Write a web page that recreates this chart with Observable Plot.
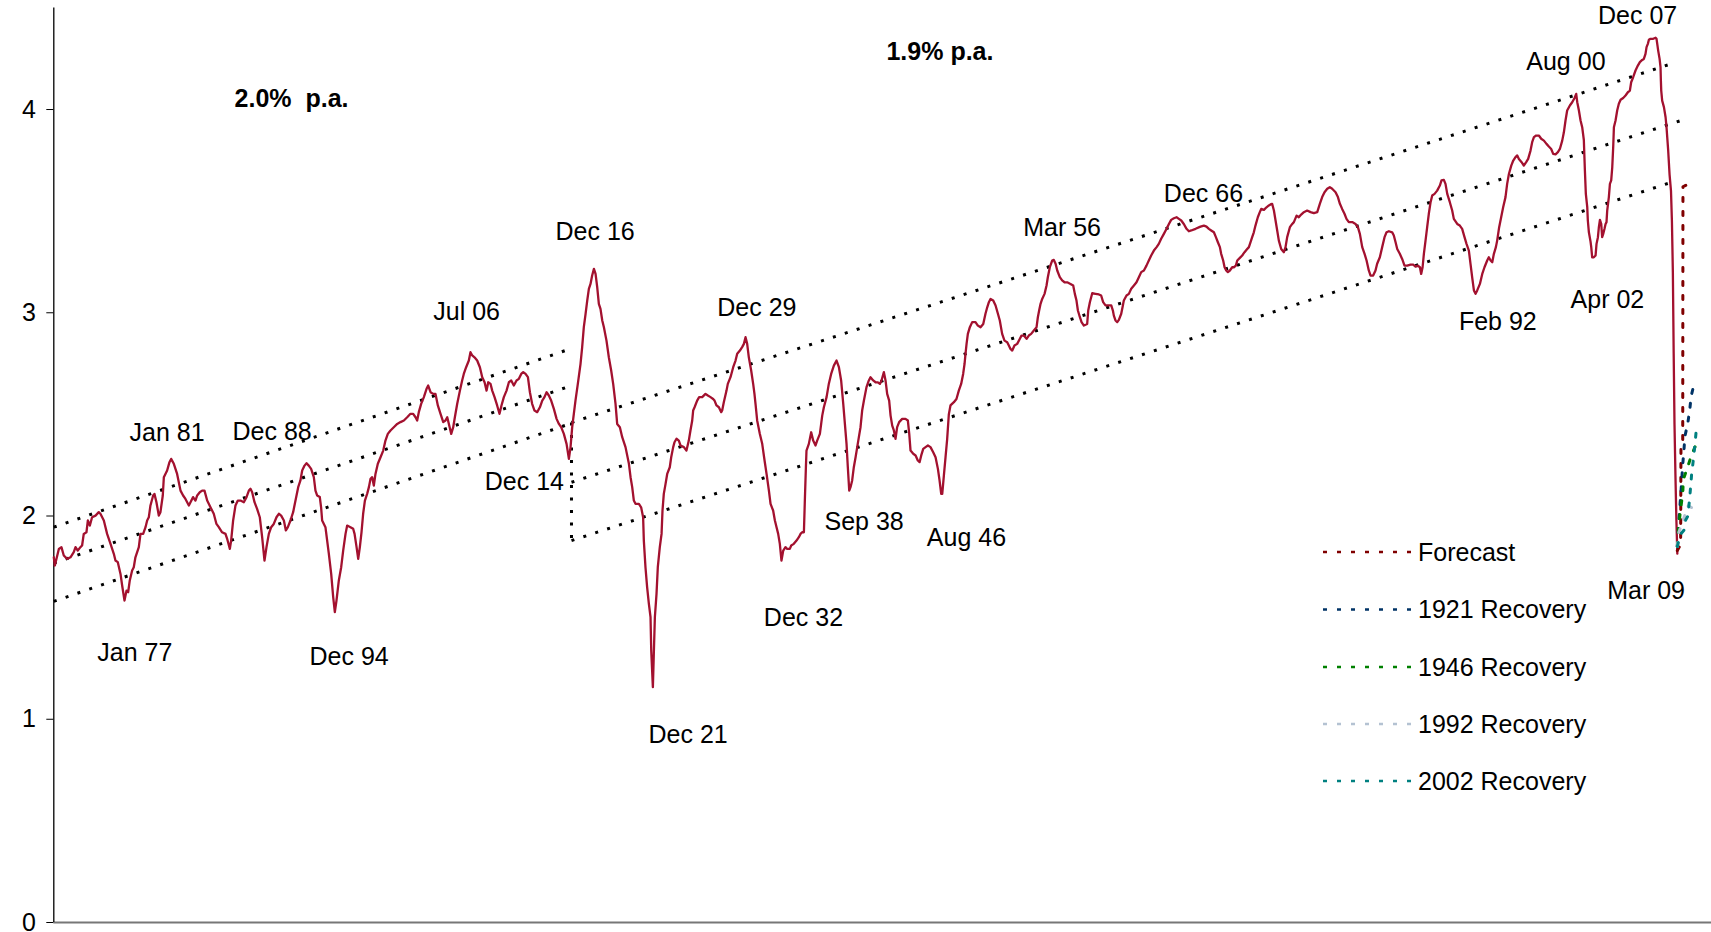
<!DOCTYPE html>
<html>
<head>
<meta charset="utf-8">
<script src="https://cdn.jsdelivr.net/npm/d3@7"></script>
<script src="https://cdn.jsdelivr.net/npm/@observablehq/plot@0.6"></script>
<style>
  html, body { margin: 0; padding: 0; background: #ffffff; overflow: hidden; }
  #chart { position: relative; width: 1711px; height: 932px; }
</style>
</head>
<body>
<div id="chart"></div>
<script>
// ---------- DATA (year, value) ----------
const era1871 = [[1871.00,1.797],[1871.09,1.756],[1871.43,1.838],[1871.65,1.847],[1871.85,1.806],[1872.14,1.789],[1872.42,1.797],[1872.70,1.822],[1872.85,1.847],[1873.04,1.830],[1873.27,1.847],[1873.41,1.855],[1873.55,1.912],[1873.78,1.920],[1873.90,1.978],[1874.07,1.953],[1874.26,1.994],[1874.55,2.002],[1874.83,2.019],[1874.97,2.011],[1875.26,1.978],[1875.54,1.912],[1875.83,1.863],[1876.11,1.814],[1876.25,1.781],[1876.45,1.773],[1876.68,1.715],[1876.82,1.658],[1877.02,1.584],[1877.19,1.633],[1877.33,1.625],[1877.47,1.683],[1877.67,1.732],[1877.81,1.748],[1877.95,1.797],[1878.24,1.847],[1878.38,1.912],[1878.61,1.912],[1878.81,1.945],[1878.95,1.978],[1879.09,1.994],[1879.23,2.052],[1879.46,2.101],[1879.57,2.109],[1879.74,2.068],[1879.94,2.002],[1880.08,2.019],[1880.28,2.101],[1880.37,2.191],[1880.65,2.224],[1880.85,2.265],[1880.99,2.281],[1881.22,2.257],[1881.50,2.207],[1881.79,2.125],[1882.01,2.101],[1882.21,2.084],[1882.50,2.052],[1882.64,2.068],[1882.86,2.093],[1883.06,2.076],[1883.21,2.101],[1883.43,2.117],[1883.63,2.125],[1883.83,2.125],[1884.06,2.076],[1884.34,2.043],[1884.62,2.011],[1884.85,1.961],[1885.05,1.945],[1885.33,1.920],[1885.62,1.912],[1885.76,1.888],[1885.99,1.838],[1886.10,1.879],[1886.27,1.978],[1886.47,2.052],[1886.67,2.076],[1886.90,2.076],[1887.18,2.068],[1887.41,2.093],[1887.61,2.125],[1887.75,2.134],[1887.89,2.117],[1888.09,2.068],[1888.31,2.035],[1888.54,1.994],[1888.74,1.896],[1888.94,1.781],[1889.11,1.847],[1889.31,1.912],[1889.51,1.945],[1889.73,1.961],[1889.96,1.994],[1890.16,2.011],[1890.36,2.002],[1890.59,1.978],[1890.76,1.929],[1890.93,1.945],[1891.15,1.978],[1891.38,2.019],[1891.58,2.076],[1891.81,2.142],[1892.00,2.175],[1892.15,2.224],[1892.35,2.248],[1892.52,2.260],[1892.71,2.248],[1892.91,2.232],[1893.14,2.191],[1893.28,2.125],[1893.42,2.101],[1893.65,2.093],[1893.76,2.043],[1893.85,1.978],[1894.13,1.945],[1894.42,1.814]];

const era1894 = [[1894.62,1.715],[1894.79,1.601],[1894.93,1.527],[1895.07,1.584],[1895.27,1.683],[1895.47,1.748],[1895.64,1.830],[1895.84,1.912],[1895.98,1.953],[1896.26,1.945],[1896.49,1.937],[1896.61,1.912],[1896.78,1.847],[1896.92,1.789],[1897.06,1.847],[1897.20,1.920],[1897.34,2.011],[1897.49,2.076],[1897.68,2.109],[1897.83,2.142],[1897.97,2.183],[1898.11,2.191],[1898.25,2.150],[1898.39,2.207],[1898.59,2.257],[1898.82,2.289],[1899.05,2.322],[1899.24,2.371],[1899.44,2.404],[1899.67,2.421],[1899.95,2.437],[1900.24,2.453],[1900.52,2.462],[1900.81,2.470],[1901.09,2.486],[1901.37,2.503],[1901.60,2.503],[1901.80,2.486],[1901.94,2.470],[1902.08,2.511],[1902.28,2.552],[1902.51,2.585],[1902.74,2.626],[1902.88,2.642],[1903.08,2.609],[1903.30,2.601],[1903.50,2.601],[1903.70,2.544],[1903.93,2.503],[1904.16,2.462],[1904.35,2.470],[1904.50,2.486],[1904.64,2.453],[1904.84,2.404],[1905.01,2.437],[1905.15,2.486],[1905.35,2.552],[1905.58,2.617],[1905.77,2.667],[1905.91,2.699],[1906.11,2.732],[1906.34,2.765],[1906.48,2.806],[1906.63,2.790],[1906.82,2.781],[1907.05,2.765],[1907.28,2.732],[1907.48,2.683],[1907.68,2.658],[1907.85,2.617],[1907.99,2.658],[1908.19,2.650],[1908.33,2.617],[1908.53,2.585],[1908.75,2.544],[1908.95,2.503],[1909.12,2.544],[1909.32,2.585],[1909.55,2.617],[1909.75,2.658],[1909.95,2.667],[1910.17,2.642],[1910.40,2.667],[1910.60,2.675],[1910.80,2.699],[1910.97,2.708],[1911.17,2.699],[1911.37,2.683],[1911.54,2.609],[1911.73,2.552],[1911.93,2.519],[1912.16,2.511],[1912.39,2.535],[1912.59,2.568],[1912.78,2.585],[1912.96,2.609],[1913.15,2.593],[1913.35,2.568],[1913.58,2.527],[1913.81,2.478],[1914.01,2.453],[1914.20,2.437],[1914.43,2.404],[1914.66,2.355],[1914.86,2.281],[1915.00,2.339],[1915.14,2.437],[1915.28,2.503],[1915.42,2.568],[1915.62,2.650],[1915.85,2.749],[1915.99,2.831],[1916.13,2.929],[1916.28,2.995],[1916.42,3.060],[1916.56,3.118],[1916.70,3.142],[1916.84,3.183],[1916.99,3.216],[1917.13,3.191],[1917.27,3.126],[1917.41,3.044],[1917.55,3.019],[1917.70,2.962],[1917.84,2.929],[1918.06,2.863],[1918.26,2.781],[1918.46,2.716],[1918.63,2.650],[1918.83,2.552],[1918.97,2.453],[1919.20,2.437],[1919.40,2.388],[1919.68,2.339],[1919.97,2.257],[1920.11,2.191]];

const era1920 = [[1920.25,2.142],[1920.39,2.076],[1920.53,2.060],[1920.82,2.060],[1921.01,2.043],[1921.18,1.994],[1921.24,1.879],[1921.38,1.748],[1921.52,1.650],[1921.67,1.568],[1921.81,1.502],[1921.87,1.338],[1922.01,1.158],[1922.09,1.322],[1922.18,1.502],[1922.32,1.617],[1922.43,1.748],[1922.60,1.847],[1922.75,1.912],[1922.83,2.027],[1922.94,2.109],[1923.09,2.158],[1923.23,2.207],[1923.45,2.240],[1923.57,2.289],[1923.74,2.339],[1923.85,2.363],[1924.02,2.380],[1924.22,2.371],[1924.36,2.347],[1924.65,2.339],[1924.87,2.322],[1925.07,2.371],[1925.21,2.421],[1925.36,2.470],[1925.44,2.519],[1925.56,2.535],[1925.78,2.568],[1925.95,2.585],[1926.21,2.585],[1926.49,2.601],[1926.69,2.593],[1926.92,2.585],[1927.14,2.576],[1927.26,2.568],[1927.43,2.544],[1927.63,2.535],[1927.83,2.511],[1927.91,2.519],[1928.05,2.560],[1928.28,2.617],[1928.39,2.650],[1928.62,2.683],[1928.85,2.732],[1929.05,2.765],[1929.19,2.798],[1929.42,2.814],[1929.61,2.831],[1929.76,2.847],[1929.90,2.880],[1930.04,2.847],[1930.18,2.781],[1930.38,2.716],[1930.55,2.650],[1930.66,2.601],[1930.75,2.552],[1930.89,2.470],[1931.12,2.404],[1931.32,2.355],[1931.52,2.273],[1931.69,2.207],[1931.89,2.125],[1932.03,2.060],[1932.25,2.027],[1932.40,1.978],[1932.54,1.945],[1932.68,1.912],[1932.82,1.863],[1932.96,1.781],[1933.11,1.830],[1933.30,1.847],[1933.45,1.838],[1933.67,1.838],[1933.79,1.855],[1934.01,1.863],[1934.24,1.879],[1934.44,1.896],[1934.58,1.912],[1934.72,1.920],[1934.87,1.920],[1934.95,2.076],[1935.04,2.240],[1935.09,2.322],[1935.29,2.355],[1935.49,2.412],[1935.66,2.371],[1935.86,2.347],[1936.00,2.371],[1936.23,2.404],[1936.34,2.453],[1936.43,2.494],[1936.57,2.535],[1936.80,2.585],[1936.99,2.650],[1937.19,2.699],[1937.42,2.740],[1937.65,2.765],[1937.85,2.732],[1938.04,2.667],[1938.22,2.552],[1938.36,2.453],[1938.50,2.355],[1938.61,2.240],[1938.73,2.125],[1938.84,2.142],[1938.98,2.175],[1939.12,2.240],[1939.27,2.289],[1939.41,2.339],[1939.55,2.388],[1939.69,2.437],[1939.83,2.519],[1939.98,2.568],[1940.20,2.634],[1940.40,2.667],[1940.54,2.683],[1940.77,2.667],[1940.97,2.658],[1941.17,2.658],[1941.34,2.650],[1941.48,2.667],[1941.68,2.708],[1941.82,2.667],[1941.96,2.601],[1942.13,2.568],[1942.25,2.494],[1942.39,2.445],[1942.53,2.421],[1942.67,2.380],[1942.81,2.437],[1942.98,2.462],[1943.24,2.478],[1943.52,2.478],[1943.72,2.470],[1943.84,2.404],[1943.95,2.322],[1944.18,2.306],[1944.38,2.298],[1944.57,2.273],[1944.72,2.265],[1944.86,2.298],[1945.03,2.330],[1945.23,2.339],[1945.43,2.347],[1945.65,2.339],[1945.88,2.314],[1946.08,2.289],[1946.28,2.232],[1946.42,2.175],[1946.56,2.109],[1946.65,2.109]];

const era1946 = [[1946.79,2.200],[1946.93,2.290],[1947.07,2.380],[1947.21,2.500],[1947.35,2.544],[1947.64,2.560],[1947.86,2.576],[1948.06,2.617],[1948.26,2.650],[1948.43,2.699],[1948.55,2.749],[1948.63,2.798],[1948.72,2.847],[1948.83,2.896],[1949.00,2.929],[1949.20,2.954],[1949.48,2.954],[1949.68,2.937],[1949.91,2.929],[1950.14,2.945],[1950.33,2.995],[1950.48,3.027],[1950.62,3.052],[1950.76,3.068],[1950.99,3.060],[1951.19,3.036],[1951.39,2.995],[1951.55,2.962],[1951.75,2.896],[1951.95,2.863],[1952.18,2.855],[1952.32,2.839],[1952.46,2.822],[1952.61,2.814],[1952.80,2.839],[1953.03,2.847],[1953.26,2.872],[1953.40,2.888],[1953.60,2.888],[1953.83,2.872],[1954.02,2.888],[1954.22,2.896],[1954.45,2.913],[1954.68,2.929],[1954.79,2.978],[1954.90,3.011],[1955.02,3.044],[1955.16,3.068],[1955.36,3.093],[1955.53,3.134],[1955.64,3.175],[1955.81,3.224],[1956.01,3.257],[1956.15,3.260],[1956.30,3.241],[1956.44,3.208],[1956.66,3.175],[1956.86,3.159],[1957.06,3.150],[1957.29,3.150],[1957.57,3.142],[1957.80,3.134],[1957.94,3.093],[1958.08,3.060],[1958.20,3.011],[1958.37,2.978],[1958.51,2.954],[1958.71,2.937],[1958.99,2.945],[1959.08,3.011],[1959.22,3.052],[1959.42,3.096],[1959.70,3.093],[1959.99,3.090],[1960.18,3.085],[1960.35,3.052],[1960.55,3.036],[1960.84,3.036],[1961.04,3.036],[1961.18,3.011],[1961.26,2.986],[1961.40,2.962],[1961.55,2.954],[1961.69,2.965],[1961.89,2.995],[1962.03,3.036],[1962.11,3.060],[1962.34,3.085],[1962.54,3.093],[1962.74,3.118],[1962.97,3.134],[1963.19,3.150],[1963.39,3.175],[1963.59,3.200],[1963.82,3.208],[1964.04,3.232],[1964.24,3.257],[1964.44,3.282],[1964.67,3.306],[1964.90,3.323],[1965.09,3.339],[1965.29,3.364],[1965.52,3.388],[1965.75,3.413],[1965.95,3.437],[1966.14,3.457],[1966.37,3.465],[1966.60,3.470],[1966.80,3.462],[1967.00,3.454],[1967.22,3.437],[1967.45,3.413],[1967.65,3.401],[1967.85,3.405],[1968.22,3.413],[1968.64,3.424],[1968.93,3.429],[1969.15,3.424],[1969.35,3.413],[1969.55,3.405],[1969.78,3.396],[1969.95,3.372],[1970.12,3.347],[1970.29,3.323],[1970.40,3.290],[1970.57,3.257],[1970.69,3.224],[1970.83,3.208],[1970.97,3.200],[1971.14,3.208],[1971.34,3.224],[1971.48,3.224],[1971.65,3.232],[1971.77,3.257],[1971.99,3.270],[1972.19,3.282],[1972.39,3.298],[1972.56,3.310],[1972.76,3.323],[1972.90,3.347],[1973.04,3.372],[1973.18,3.396],[1973.32,3.429],[1973.52,3.470],[1973.69,3.495],[1973.81,3.511],[1974.04,3.506],[1974.26,3.519],[1974.46,3.528],[1974.60,3.533]];

const era1974 = [[1974.74,3.536],[1974.89,3.503],[1975.03,3.454],[1975.17,3.405],[1975.31,3.355],[1975.51,3.314],[1975.74,3.298],[1975.88,3.323],[1976.02,3.372],[1976.25,3.421],[1976.45,3.437],[1976.59,3.446],[1976.82,3.478],[1977.01,3.470],[1977.21,3.483],[1977.44,3.495],[1977.72,3.503],[1978.01,3.495],[1978.29,3.490],[1978.58,3.495],[1978.80,3.536],[1979.00,3.569],[1979.20,3.593],[1979.43,3.610],[1979.65,3.618],[1979.85,3.610],[1980.14,3.593],[1980.34,3.569],[1980.51,3.536],[1980.70,3.511],[1980.90,3.487],[1981.07,3.462],[1981.27,3.446],[1981.56,3.446],[1981.84,3.437],[1982.04,3.421],[1982.21,3.388],[1982.41,3.323],[1982.61,3.290],[1982.78,3.257],[1982.97,3.208],[1983.12,3.183],[1983.34,3.183],[1983.54,3.208],[1983.68,3.241],[1983.91,3.273],[1984.11,3.323],[1984.31,3.372],[1984.48,3.396],[1984.68,3.401],[1984.96,3.396],[1985.10,3.380],[1985.25,3.347],[1985.39,3.314],[1985.61,3.290],[1985.81,3.265],[1986.01,3.232],[1986.24,3.232],[1986.52,3.237],[1986.75,3.237],[1986.95,3.227],[1987.15,3.232],[1987.32,3.224],[1987.43,3.191],[1987.55,3.224],[1987.66,3.290],[1987.80,3.355],[1987.94,3.421],[1988.08,3.487],[1988.23,3.544],[1988.37,3.577],[1988.57,3.585],[1988.79,3.601],[1989.02,3.626],[1989.16,3.651],[1989.36,3.654],[1989.50,3.634],[1989.65,3.585],[1989.87,3.544],[1990.07,3.503],[1990.21,3.462],[1990.50,3.437],[1990.72,3.429],[1990.92,3.413],[1991.12,3.372],[1991.29,3.339],[1991.49,3.306],[1991.63,3.241],[1991.77,3.175],[1991.92,3.110],[1992.06,3.093],[1992.20,3.110],[1992.43,3.142],[1992.63,3.191],[1992.82,3.224],[1993.05,3.257],[1993.19,3.273],[1993.34,3.257],[1993.48,3.249],[1993.62,3.290],[1993.79,3.323],[1993.90,3.355],[1994.07,3.421],[1994.24,3.470],[1994.41,3.519],[1994.61,3.569],[1994.75,3.634],[1994.90,3.683],[1995.10,3.724],[1995.27,3.749],[1995.46,3.766],[1995.61,3.774],[1995.75,3.757],[1995.98,3.741],[1996.17,3.724],[1996.37,3.741],[1996.54,3.757],[1996.74,3.798],[1996.88,3.839],[1997.03,3.864],[1997.22,3.872],[1997.45,3.872],[1997.65,3.856],[1997.88,3.847],[1998.10,3.831],[1998.30,3.818],[1998.50,3.806],[1998.67,3.782],[1998.87,3.779],[1999.07,3.790],[1999.24,3.806],[1999.44,3.847],[1999.58,3.888],[1999.72,3.946],[1999.86,3.995],[2000.09,4.020],[2000.29,4.036],[2000.49,4.057],[2000.63,4.077]];

const era2000 = [[2000.72,4.036],[2000.86,3.995],[2001.00,3.946],[2001.14,3.913],[2001.28,3.850],[2001.37,3.700],[2001.45,3.585],[2001.57,3.520],[2001.62,3.454],[2001.71,3.396],[2001.85,3.350],[2001.91,3.323],[2001.99,3.273],[2002.13,3.273],[2002.28,3.282],[2002.36,3.339],[2002.48,3.372],[2002.56,3.421],[2002.65,3.457],[2002.76,3.437],[2002.84,3.372],[2002.93,3.388],[2003.04,3.413],[2003.13,3.437],[2003.21,3.446],[2003.27,3.503],[2003.41,3.569],[2003.50,3.634],[2003.61,3.651],[2003.70,3.716],[2003.78,3.815],[2003.84,3.913],[2003.98,3.946],[2004.12,3.995],[2004.26,4.028],[2004.41,4.048],[2004.63,4.057],[2004.83,4.069],[2005.03,4.085],[2005.20,4.093],[2005.31,4.134],[2005.48,4.159],[2005.68,4.192],[2005.88,4.216],[2006.05,4.233],[2006.25,4.244],[2006.39,4.249],[2006.53,4.274],[2006.62,4.307],[2006.73,4.323],[2006.82,4.343],[2006.96,4.348],[2007.19,4.348],[2007.39,4.353],[2007.47,4.348],[2007.53,4.323],[2007.61,4.290],[2007.73,4.249],[2007.81,4.208],[2007.84,4.143],[2007.87,4.093],[2007.95,4.044],[2008.10,4.012],[2008.24,3.962],[2008.32,3.913],[2008.38,3.864],[2008.46,3.800],[2008.58,3.680],[2008.70,3.600],[2008.78,3.450],[2008.86,3.200],[2008.93,2.800],[2009.00,2.450],[2009.08,2.200],[2009.16,1.980],[2009.24,1.815]];

const forecast     = [[2009.24,1.83],[2009.52,1.86],[2009.55,2.33],[2009.70,2.37],[2009.72,3.62],[2009.88,3.625],[2010.36,3.635],[2010.75,3.645]];
const recovery1921 = [[2009.24,1.85],[2009.37,1.975],[2009.54,2.11],[2009.71,2.26],[2009.80,2.32],[2009.88,2.39],[2010.14,2.46],[2010.31,2.53],[2010.42,2.59],[2010.75,2.67]];
const recovery1946 = [[2009.24,1.85],[2009.37,1.96],[2009.54,2.04],[2009.71,2.12],[2009.75,2.18],[2010.17,2.25],[2010.45,2.30],[2010.75,2.34]];
const recovery1992 = [[2009.24,1.85],[2009.37,1.92],[2009.80,1.99],[2010.17,2.05],[2010.50,2.04],[2010.75,2.04]];
const recovery2002 = [[2009.24,1.85],[2009.51,1.91],[2009.80,1.93],[2009.95,1.98],[2010.14,2.00],[2010.31,2.10],[2010.45,2.20],[2010.65,2.30],[2010.85,2.42]];

// trend channels: [startYear, startValue, endYear, endValue]
const trend20 = [[1871, 1.945, 1914.75, 2.818], [1871, 1.768, 1915.0, 2.640], [1871, 1.580, 1915.0, 2.455]];
const trend19 = [[1915.08, 2.460, 2009.10, 4.232], [1915.08, 2.166, 2009.45, 3.944], [1915.08, 1.879, 2008.95, 3.646], [1915.08, 2.460, 1915.08, 1.879]];

// annotations: [text, year, value]
const dateLabels = [
  ["Dec 07", 2002.49, 4.423], ["Aug 00", 1996.38, 4.192],
  ["Dec 66", 1965.52, 3.547], ["Mar 56", 1953.54, 3.380],
  ["Dec 16", 1913.72, 3.359], ["Dec 29", 1927.49, 2.986],
  ["Jul 06", 1903.31, 2.965], ["Feb 92", 1990.64, 2.913],
  ["Apr 02", 2000.15, 3.024], ["Jan 81", 1877.45, 2.367],
  ["Dec 88", 1886.22, 2.375], ["Dec 14", 1907.70, 2.129],
  ["Sep 38", 1936.62, 1.932], ["Aug 46", 1945.34, 1.850],
  ["Jan 77", 1874.70, 1.289], ["Dec 94", 1892.77, 1.269],
  ["Dec 32", 1931.46, 1.461], ["Dec 21", 1921.64, 0.881],
  ["Mar 09", 2003.27, 1.594]
];
const rateLabels = [["1.9% p.a.", 1941.90, 4.246], ["2.0%\u00a0 p.a.", 1886.39, 4.010]];

const yTicks = [0, 1, 2, 3, 4];
const legendNames  = ["Forecast", "1921 Recovery", "1946 Recovery", "1992 Recovery", "2002 Recovery"];
const legendColors = ["#800000", "#003366", "#008000", "#B4C2D2", "#008080"];

// ---------- BUILD ----------
const mainSeries = [...era1871, ...era1894, ...era1920, ...era1946, ...era1974, ...era2000];
const scenarioData = [forecast, recovery1921, recovery1946, recovery1992, recovery2002];
const scenarioRows = scenarioData.flatMap((s, i) => s.map(([x, y]) => ({x, y, name: legendNames[i]})));
const trendRows = [...trend20, ...trend19].map(([x1, y1, x2, y2]) => ({x1, y1, x2, y2}));

const FONT = "'Liberation Sans', Arial, Helvetica, sans-serif";

const chart = Plot.plot({
  width: 1711,
  height: 932,
  marginLeft: 53.3,
  marginRight: 0,
  marginTop: 7.4,
  marginBottom: 10,
  x: {domain: [1871, 2012.15], axis: null},
  y: {domain: [0, 4.5], axis: null},
  color: {domain: legendNames, range: legendColors},
  style: {fontFamily: FONT, fontSize: "25px", background: "#ffffff", color: "#000000"},
  marks: [
    Plot.ruleY([0], {stroke: "#777777", strokeWidth: 2}),
    Plot.ruleX([1871], {stroke: "#000000", strokeWidth: 1.3}),
    Plot.axisY({ticks: yTicks, tickSize: 7, tickPadding: 11, tickFormat: d => String(d), fontSize: 25, stroke: "#000000"}),
    Plot.link(trendRows, {x1: "x1", y1: "y1", x2: "x2", y2: "y2", stroke: "#000000", strokeWidth: 3, strokeDasharray: "3,9.5"}),
    Plot.line(mainSeries, {x: d => d[0], y: d => d[1], stroke: "#A3112F", strokeWidth: 2.3, strokeLinejoin: "round"}),
    Plot.line(scenarioRows, {x: "x", y: "y", z: "name", stroke: "name", strokeWidth: 3, strokeDasharray: "4,10"}),
    Plot.text(dateLabels, {x: d => d[1], y: d => d[2], text: d => d[0], textAnchor: "start", lineAnchor: "bottom", fontSize: 25, fill: "#000000"}),
    Plot.text(rateLabels, {x: d => d[1], y: d => d[2], text: d => d[0], textAnchor: "start", lineAnchor: "bottom", fontSize: 25, fontWeight: "bold", fill: "#000000"})
  ]
});

// legend inside plot area (layout)
const svg = d3.select(chart);
const leg = svg.append("g").attr("font-family", FONT).attr("font-size", 25).attr("text-anchor", "start");
const rowY = [552, 609.5, 667, 724, 781];
legendNames.forEach((name, i) => {
  leg.append("line").attr("x1", 1323).attr("x2", 1411).attr("y1", rowY[i]).attr("y2", rowY[i])
    .attr("stroke", legendColors[i]).attr("stroke-width", 2.5).attr("stroke-dasharray", "4,10");
  leg.append("text").attr("x", 1418).attr("y", rowY[i]).attr("dy", "0.35em")
    .attr("text-anchor", "start").attr("fill", "#000").text(name);
});

document.getElementById("chart").appendChild(chart);
</script>
</body>
</html>
